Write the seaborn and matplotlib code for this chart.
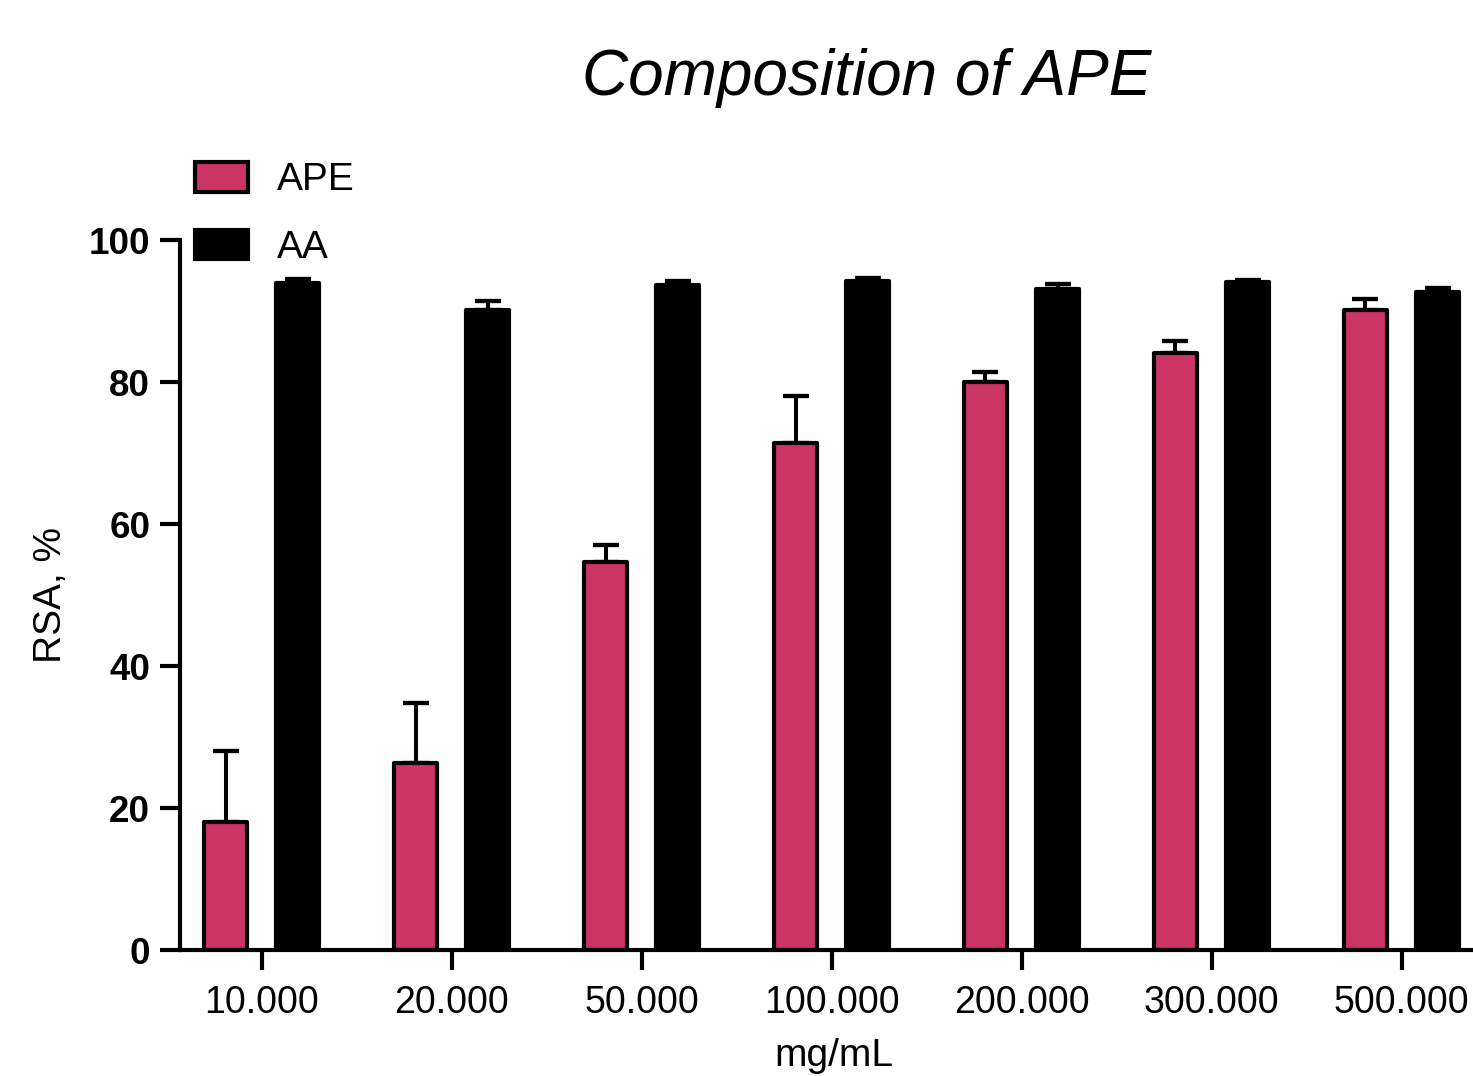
import matplotlib
matplotlib.use("Agg")
import matplotlib.pyplot as plt
import seaborn as sns
import numpy as np
import pandas as pd

# concentrations and readings (RSA, %)
doses = ["10.000", "20.000", "50.000", "100.000", "200.000", "300.000", "500.000"]
ape_mean = [18.0, 26.3, 54.6, 71.4, 80.0, 84.1, 90.1]
ape_err = [10.0, 8.5, 2.4, 6.6, 1.4, 1.7, 1.6]
aa_mean = [93.9, 90.1, 93.7, 94.2, 93.1, 94.1, 92.7]
aa_err = [0.6, 1.3, 0.5, 0.4, 0.7, 0.3, 0.5]

df = pd.DataFrame({
    "dose": doses * 2,
    "rsa": ape_mean + aa_mean,
    "group": ["APE"] * len(doses) + ["AA"] * len(doses),
})

sns.set_style("ticks")
plt.rcParams["font.family"] = ["Liberation Sans", "DejaVu Sans"]
plt.rcParams["text.color"] = "black"
plt.rcParams["axes.labelcolor"] = "black"
plt.rcParams["xtick.color"] = "black"
plt.rcParams["ytick.color"] = "black"

fig = plt.figure(figsize=(14.73, 10.76), dpi=100)
ax = fig.add_axes([180 / 1473, 1 - 950 / 1076, 1307 / 1473, 710 / 1076])

sns.barplot(data=df, x="dose", y="rsa", hue="group", order=doses,
            hue_order=["APE", "AA"], palette={"APE": "#CC3466", "AA": "black"},
            saturation=1, width=0.76, gap=0.4, edgecolor="black", linewidth=3,
            errorbar=None, ax=ax, zorder=2)

for bars in ax.patches:
    bars.set_joinstyle("round")

for cont, means, errs in zip(ax.containers, [ape_mean, aa_mean], [ape_err, aa_err]):
    xs = [p.get_x() + p.get_width() / 2 for p in cont.patches]
    eb = ax.errorbar(xs, means, yerr=[np.zeros(len(errs)), errs], fmt="none",
                     ecolor="black", elinewidth=2.9, capsize=9.5, capthick=3.1,
                     zorder=1, clip_on=False)
    for cap in eb[1]:
        cap.set_solid_capstyle("round")

ax.set_ylim(0, 100)
ax.set_xlim(-0.43, 6.45)
ax.set_yticks([0, 20, 40, 60, 80, 100])
ax.tick_params(axis="both", length=14.5, width=3, color="black")
ax.tick_params(axis="y", labelsize=26.5, pad=7)
ax.tick_params(axis="x", labelsize=27, pad=11)
for lab in ax.get_yticklabels():
    lab.set_fontweight("bold")

for side in ["top", "right"]:
    ax.spines[side].set_visible(False)
for side in ["left", "bottom"]:
    ax.spines[side].set_linewidth(3)
    ax.spines[side].set_color("black")

ax.set_ylabel("RSA, %", fontsize=28, labelpad=14)
ax.set_xlabel("mg/mL", fontsize=28, labelpad=12)

handles, labels = ax.get_legend_handles_labels()
ax.legend(handles, labels, loc="upper left", bbox_to_anchor=(195 / 1473, 1 - 162 / 1076),
          bbox_transform=fig.transFigure, frameon=False, fontsize=28,
          handlelength=1.35, handleheight=0.8, handletextpad=0.75, labelspacing=0.8,
          borderpad=0, borderaxespad=0)

fig.text(867 / 1473, 1 - 78 / 1076, "Composition of APE", fontsize=46,
         style="italic", ha="center", va="center")

fig.savefig("out.png", dpi=100)
